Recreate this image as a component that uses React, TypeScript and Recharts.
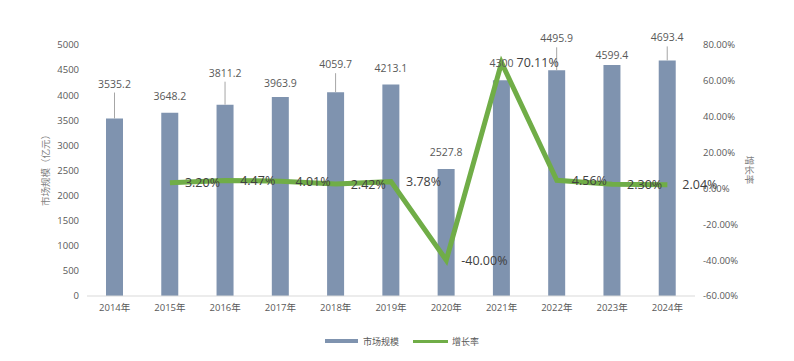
import { Bar, ComposedChart, LabelList, Line, XAxis, YAxis } from "recharts";

const years = ["2014年", "2015年", "2016年", "2017年", "2018年", "2019年", "2020年", "2021年", "2022年", "2023年", "2024年"];
const marketSize = [3535.2, 3648.2, 3811.2, 3963.9, 4059.7, 4213.1, 2527.8, 4300, 4495.9, 4599.4, 4693.4];
const growthRate = [null, 3.2, 4.47, 4.01, 2.42, 3.78, -40.0, 70.11, 4.56, 2.3, 2.04];
const sizeTicks = [0, 500, 1000, 1500, 2000, 2500, 3000, 3500, 4000, 4500, 5000];
const rateTicks = [-60, -40, -20, 0, 20, 40, 60, 80];

// how far each value label sits above its bar (px); raised ones get a leader line
const labelLift = [35, 17, 32, 14, 28, 17, 17, 17, 32, 10, 23];

const data = years.map((year, i) => ({ year, size: marketSize[i], rate: growthRate[i] }));

const FONT = '"Open Sans", "Noto Sans CJK SC", sans-serif';
const BAR = "#7f93af";
const GREEN = "#70ad47";

function BarValue(props: any) {
  const { x, y, width, value, index } = props;
  const cx = x + width / 2;
  const lift = labelLift[index] ?? 15;
  const ty = y - lift;
  return (
    <g>
      {lift > 20 && <line x1={cx} y1={ty + 9} x2={cx} y2={y} stroke="#a6a6a6" strokeWidth={1} />}
      <text x={cx} y={ty} textAnchor="middle" dominantBaseline="central" fontSize={10.5} fill="#595959" fontFamily={FONT}>
        {value}
      </text>
    </g>
  );
}

function RateValue(props: any) {
  const { x, y, value } = props;
  if (value == null) return null;
  return (
    <text x={x + 15} y={y} dominantBaseline="central" fontSize={12.5} fill="#404040" fontFamily={FONT}>
      {Number(value).toFixed(2) + "%"}
    </text>
  );
}

export default function App() {
  const tick = { fontSize: 9.5, fill: "#595959", fontFamily: FONT };
  return (
    <div style={{ position: "absolute", left: 0, top: 0, width: 794, height: 361, background: "#fff", fontFamily: FONT }}>
      <ComposedChart width={794} height={361} data={data} margin={{ top: 45, right: 0, bottom: 35, left: 0 }}>
        <XAxis dataKey="year" tickLine={false} axisLine={{ stroke: "#d9d9d9" }} tick={tick} height={30} interval={0} />
        <YAxis yAxisId="left" domain={[0, 5000]} ticks={sizeTicks} axisLine={false} tickLine={false} width={87} tick={tick} />
        <YAxis
          yAxisId="right"
          orientation="right"
          domain={[-60, 80]}
          ticks={rateTicks}
          axisLine={false}
          tickLine={false}
          width={99}
          tick={tick}
          tickFormatter={(v: number) => v.toFixed(2) + "%"}
        />
        <Bar yAxisId="left" dataKey="size" fill={BAR} barSize={17} isAnimationActive={false}>
          <LabelList dataKey="size" content={<BarValue />} />
        </Bar>
        <Line
          yAxisId="right"
          dataKey="rate"
          stroke={GREEN}
          strokeWidth={5}
          dot={false}
          activeDot={false}
          isAnimationActive={false}
        >
          <LabelList dataKey="rate" content={<RateValue />} />
        </Line>
      </ComposedChart>

      <div
        style={{
          position: "absolute",
          left: 45,
          top: 168,
          transform: "translate(-50%, -50%) rotate(-90deg)",
          fontSize: 9.5,
          color: "#7f7f7f",
          whiteSpace: "nowrap",
        }}
      >
        市场规模（亿元）
      </div>
      <div
        style={{
          position: "absolute",
          left: 750,
          top: 170,
          transform: "translate(-50%, -50%) rotate(90deg)",
          fontSize: 9.5,
          color: "#7f7f7f",
          whiteSpace: "nowrap",
        }}
      >
        增长率
      </div>

      <div style={{ position: "absolute", left: 325, top: 334, display: "flex", alignItems: "center", fontSize: 9, color: "#595959", height: 14 }}>
        <span style={{ display: "inline-block", width: 33, height: 4, background: BAR, marginRight: 5 }} />
        <span style={{ marginRight: 14 }}>市场规模</span>
        <span style={{ display: "inline-block", width: 35, height: 3, background: GREEN, marginRight: 4 }} />
        <span>增长率</span>
      </div>
    </div>
  );
}
